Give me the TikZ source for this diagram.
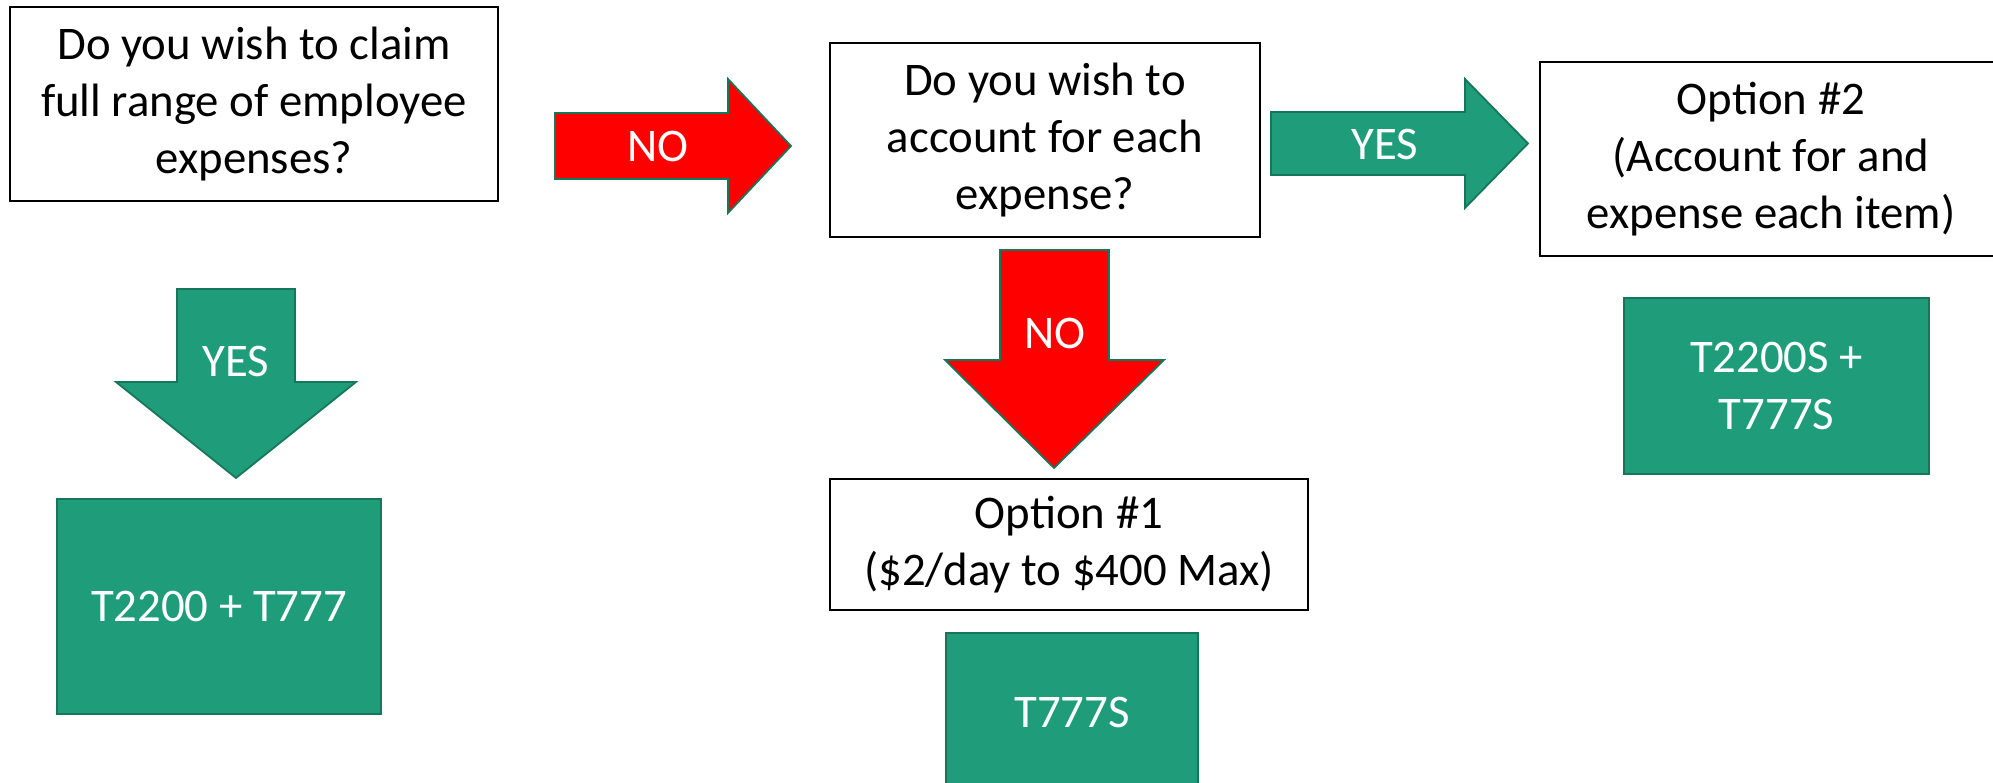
\documentclass[tikz,border=0pt]{standalone}
\usepackage{fontspec}
\setmainfont{Carlito}
\definecolor{formgreen}{RGB}{31,156,122}
\definecolor{edgegreen}{RGB}{22,118,90}
\begin{document}
\begin{tikzpicture}[x=0.01cm,y=-0.01cm,
  every node/.style={font=\fontsize{13.3pt}{16.2pt}\selectfont, align=center, inner sep=0pt},
  qbox/.style={draw=black, line width=0.6pt, fill=white, rectangle},
  formbox/.style={draw=edgegreen, line width=0.6pt, fill=formgreen, text=white, rectangle},
  yesarrow/.style={draw=edgegreen, line width=0.5pt, fill=formgreen, line join=miter},
  noarrow/.style={draw=edgegreen, line width=0.5pt, fill=red, line join=miter},
  arrowtext/.style={text=white}]
\clip (0,0) rectangle (1993,783);
\fill[white] (0,0) rectangle (1993,783);

% questions and options
\node[qbox, minimum width=4.88cm, minimum height=1.94cm] (claim) at (254,104)
  {Do you wish to claim\\full range of employee\\expenses?};
\node[qbox, minimum width=4.30cm, minimum height=1.94cm] (account) at (1045,140)
  {Do you wish to\\account for each\\expense?};
\node[qbox, minimum width=4.62cm, minimum height=1.94cm] (opttwo) at (1771,159)
  {Option \#2\\(Account for and\\expense each item)};
\node[qbox, minimum width=4.78cm, minimum height=1.31cm] (optone) at (1069,544.5)
  {Option \#1\\(\$2/day to \$400 Max)};

% forms
\node[formbox, minimum width=3.24cm, minimum height=2.15cm] (fullforms) at (219,606.5) {T2200 + T777};
\node[formbox, minimum width=3.05cm, minimum height=1.76cm] (detailforms) at (1776.5,386) {T2200S +\\T777S};
\node[formbox, minimum width=2.52cm, minimum height=1.58cm] (flatform) at (1072,712) {T777S};

% block arrows
\draw[noarrow] (555,113) -- (728,113) -- (728,79) -- (791,146) -- (728,213) -- (728,179) -- (555,179) -- cycle;
\node[arrowtext] (noright) at (658,146) {NO};
\draw[yesarrow] (1271,112) -- (1465,112) -- (1465,79) -- (1528,143.5) -- (1465,208) -- (1465,175) -- (1271,175) -- cycle;
\node[arrowtext] (yesright) at (1385,144) {YES};
\draw[yesarrow] (177,289) -- (295,289) -- (295,382) -- (356,382) -- (236,478) -- (116,382) -- (177,382) -- cycle;
\node[arrowtext] (yesdown) at (236,361) {YES};
\draw[noarrow] (1000,250) -- (1109,250) -- (1109,360) -- (1164,360) -- (1054,468) -- (945,360) -- (1000,360) -- cycle;
\node[arrowtext] (nodown) at (1055,333) {NO};
\end{tikzpicture}
\end{document}
